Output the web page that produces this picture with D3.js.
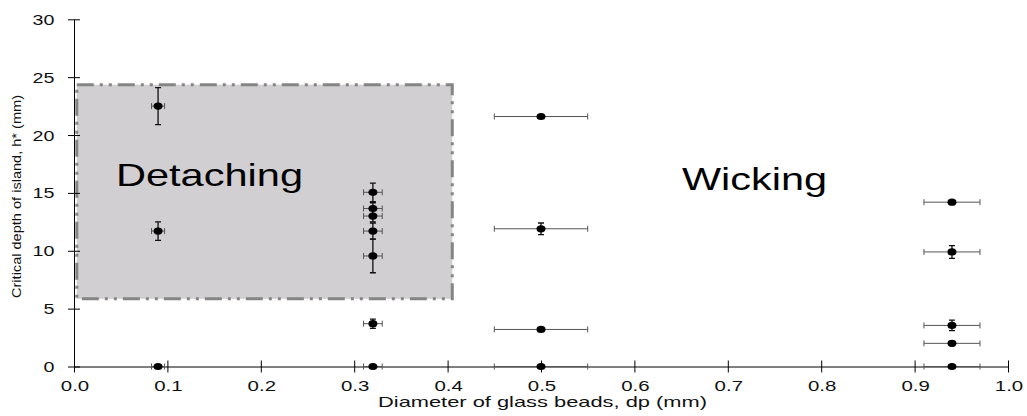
<!DOCTYPE html>
<html>
<head>
<meta charset="utf-8">
<script src="https://cdn.jsdelivr.net/npm/d3@7"></script>
<style>
body { margin: 0; background: #fff; }
text { font-family: "Liberation Sans", Arial, sans-serif; }
</style>
</head>
<body>
<div id="chart"></div>
<script>
const width = 1027;
const height = 416;

// bead diameter (mm), critical depth (mm), errors
const diam = [0.09, 0.09, 0.09,
    0.32, 0.32, 0.32, 0.32, 0.32, 0.32, 0.32,
    0.5, 0.5, 0.5, 0.5,
    0.94, 0.94, 0.94, 0.94, 0.94]
const depth = [22.5, 11.7, 0,
    15.05, 13.65, 13.0, 11.7, 9.55, 3.7, 0,
    21.6, 11.9, 3.2, 0,
    14.2, 9.9, 3.55, 2.0, 0]
const depthErr = [1.6, 0.8, 0,
    0.8, 0.5, 0.5, 0.7, 1.45, 0.4, 0,
    0, 0.5, 0, 0,
    0, 0.55, 0.45, 0.2, 0]
const diamErr = [0.007, 0.007, 0.007,
    0.01, 0.01, 0.01, 0.01, 0.01, 0.01, 0.01,
    0.05, 0.05, 0.05, 0.05,
    0.03, 0.03, 0.03, 0.03, 0.03]

const xTicks = [0, 0.1, 0.2, 0.3, 0.4, 0.5, 0.6, 0.7, 0.8, 0.9, 1.0]
const yTicks = [0, 5, 10, 15, 20, 25, 30]

// detaching region: [x0, x1, y0, y1]
const detachBox = [0.003, 0.405, 5.85, 24.35]

const svg = d3.select('#chart')
    .append('svg')
    .attr('width', width)
    .attr('height', height)

const x = d3.scaleLinear().domain([0, 1]).range([74, 1008])
const y = d3.scaleLinear().domain([0, 30]).range([366.5, 19.3])

// shaded region
svg.append('rect')
    .attr('x', x(detachBox[0]))
    .attr('y', y(detachBox[3]))
    .attr('width', x(detachBox[1]) - x(detachBox[0]))
    .attr('height', y(detachBox[2]) - y(detachBox[3]))
    .attr('fill', '#d1cfd1')
    .attr('stroke', '#858585')
    .attr('stroke-width', 3)
    .attr('stroke-dasharray', '17,6,3,6,3,6')

svg.append('text')
    .attr('x', 116)
    .attr('y', 186)
    .attr('font-size', 32)
    .attr('textLength', 187)
    .attr('lengthAdjust', 'spacingAndGlyphs')
    .text('Detaching')

svg.append('text')
    .attr('x', 682)
    .attr('y', 190)
    .attr('font-size', 31)
    .attr('textLength', 145)
    .attr('lengthAdjust', 'spacingAndGlyphs')
    .text('Wicking')

// axes
const xAxis = d3.axisBottom(x).tickValues(xTicks).tickFormat(d3.format('.1f')).tickSizeInner(6).tickSizeOuter(0)
const gx = svg.append('g').attr('transform', `translate(0,${y(0)})`).call(xAxis)
gx.select('.domain').attr('stroke', '#000')
gx.selectAll('.tick line').attr('y1', -6).attr('y2', 6).attr('stroke', '#000')
gx.selectAll('.tick text')
    .attr('y', 0).attr('dy', null)
    .attr('transform', 'translate(0.5,24.5) scale(1.32,1)')
    .attr('font-size', 15.5).attr('font-family', 'Liberation Sans').attr('fill', '#111')

const yAxis = d3.axisLeft(y).tickValues(yTicks).tickSizeInner(6).tickSizeOuter(0)
const gy = svg.append('g').attr('transform', `translate(${x(0)},0)`).call(yAxis)
gy.select('.domain').attr('stroke', '#000')
gy.selectAll('.tick line').attr('x1', -6).attr('x2', 6).attr('stroke', '#000')
gy.selectAll('.tick text')
    .attr('x', 0).attr('dy', null)
    .attr('transform', 'translate(-19.5,5) scale(1.27,1)')
    .attr('font-size', 15.5).attr('font-family', 'Liberation Sans').attr('fill', '#111')

// axis titles
svg.append('text')
    .attr('x', 378)
    .attr('y', 406.5)
    .attr('font-size', 15)
    .attr('fill', '#111')
    .attr('textLength', 329)
    .attr('lengthAdjust', 'spacingAndGlyphs')
    .text('Diameter of glass beads, dp (mm)')

svg.append('text')
    .attr('transform', 'translate(21,298) rotate(-90)')
    .attr('font-size', 12)
    .attr('fill', '#111')
    .attr('textLength', 203)
    .attr('lengthAdjust', 'spacingAndGlyphs')
    .text('Critical depth of island, h* (mm)')

// error bars and points
const idx = d3.range(diam.length)
const marks = svg.append('g')

marks.selectAll('.xerr')
    .data(idx)
    .enter()
    .append('path')
    .attr('fill', 'none')
    .attr('stroke', '#555')
    .attr('stroke-width', 1)
    .attr('d', i => {
        let x0 = x(diam[i] - diamErr[i]), x1 = x(diam[i] + diamErr[i]), yy = y(depth[i])
        return `M${x0},${yy}H${x1}M${x0},${yy - 3}V${yy + 3}M${x1},${yy - 3}V${yy + 3}`
    })

marks.selectAll('.yerr')
    .data(idx.filter(i => depthErr[i] > 0))
    .enter()
    .append('path')
    .attr('fill', 'none')
    .attr('stroke', '#111')
    .attr('stroke-width', 1.3)
    .attr('d', i => {
        let xx = x(diam[i]), y0 = y(depth[i] - depthErr[i]), y1 = y(depth[i] + depthErr[i])
        return `M${xx},${y0}V${y1}M${xx - 3},${y0}H${xx + 3}M${xx - 3},${y1}H${xx + 3}`
    })

marks.selectAll('ellipse')
    .data(idx)
    .enter()
    .append('ellipse')
    .attr('cx', i => x(diam[i]))
    .attr('cy', i => y(depth[i]))
    .attr('rx', 4.5)
    .attr('ry', 3.6)
    .attr('fill', '#000')
</script>
</body>
</html>
